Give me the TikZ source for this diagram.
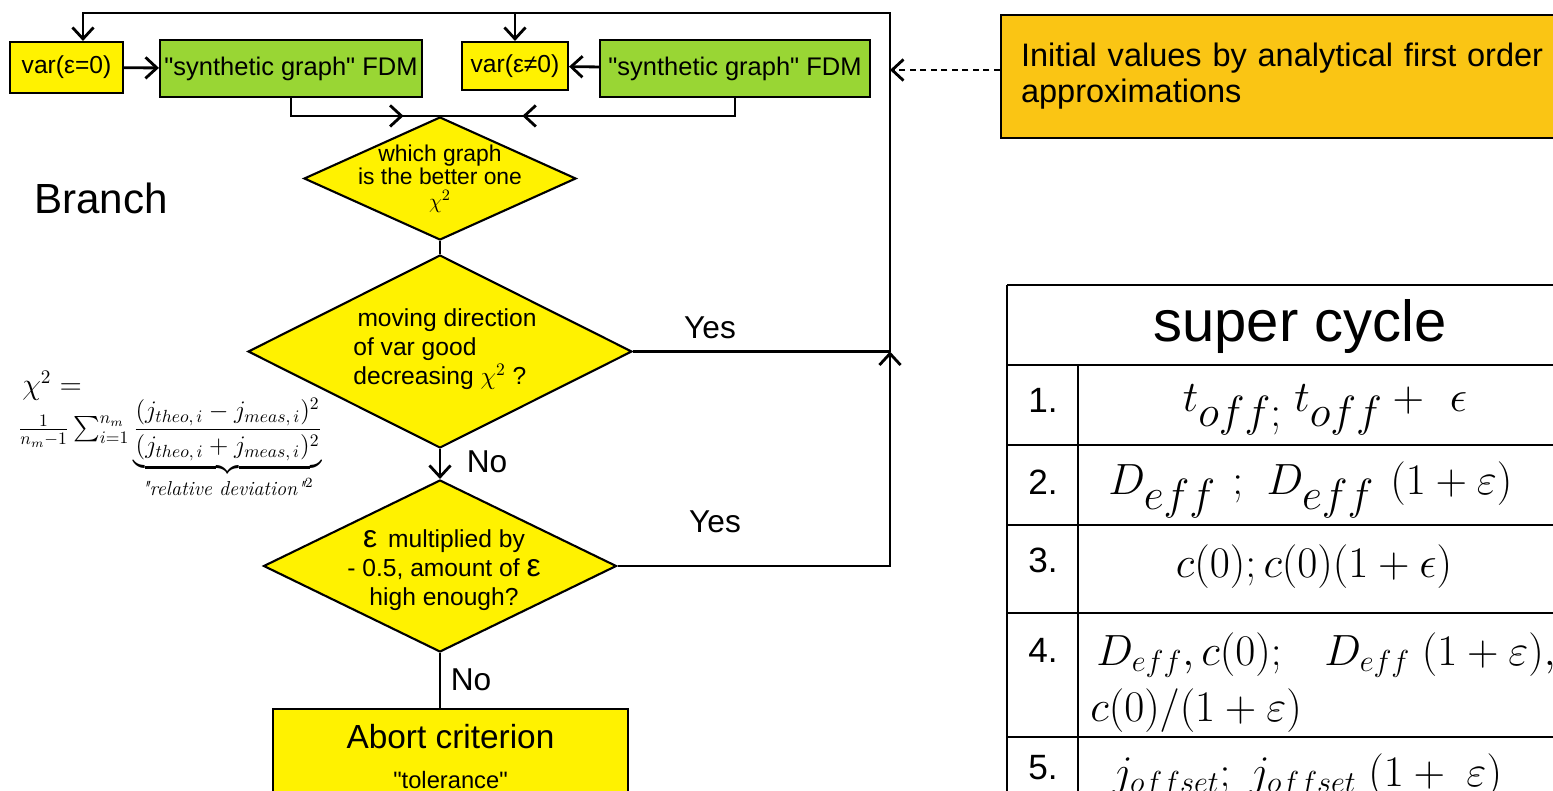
\documentclass[tikz,border=0pt]{standalone}
\usepackage{amsmath}
\usepackage{fontspec}
\setmainfont{Liberation Sans}
\newfontfamily\lmroman{Latin Modern Roman}
\usetikzlibrary{
    arrows.meta,
    positioning,
    shapes.geometric,
    decorations.markings,
    calc
}
\definecolor{box yellow}{RGB}{255,242,0}
\definecolor{box green}{RGB}{153,214,52}
\definecolor{box orange}{RGB}{250,197,20}
\tikzset{
    % Lines and arrows
    arrow tip/.tip={Straight Barb[length=6.5pt,width=12pt]},
    flow/.style={line width=1.6pt},
    arr/.style={flow,->,>={arrow tip}},
    midarrow/.style={postaction=decorate,decoration={markings, mark=at position #1 with {\arrow[xshift=3pt]{arrow tip}}} },
    midarrow/.default=.5,
    %
    % Boxes
    var box/.style={draw,line width=1.2pt,fill=box yellow,inner sep=0pt,font=\fontsize{14}{17}\selectfont},
    fdm box/.style={draw,line width=1.2pt,fill=box green,inner sep=0pt,font=\fontsize{14.5}{17}\selectfont},
    decision/.style={diamond,draw,line width=1.2pt,fill=box yellow,inner sep=0pt},
    decision text/.style={inner sep=0pt,font=\fontsize{14}{16.5}\selectfont},
    answer/.style={inner sep=0pt,font=\fontsize{18}{20}\selectfont},
    %
    % Table
    table line/.style={line width=1.2pt},
    row number/.style={inner sep=0pt,font=\fontsize{20}{22}\selectfont},
    cell/.style={inner sep=0pt,font=\fontsize{33}{36}\selectfont},
    small cell/.style={cell,anchor=west,font=\fontsize{24}{27}\selectfont}
}
\newcommand{\dq}{\textquotedbl}

\begin{document}
\begin{tikzpicture}[x=0.02cm,y=-0.02cm]
    \useasboundingbox (0,0) rectangle (1553,791);

    % upper row
    \node[var box,minimum width=113*0.02cm,minimum height=51*0.02cm] (var0) at (66.5,67.5) {var(ε=0)};
    \node[fdm box,minimum width=262*0.02cm,minimum height=57*0.02cm] (fdm0) at (291,68.5) {\dq synthetic graph\dq{} FDM};
    \node[var box,minimum width=106*0.02cm,minimum height=48*0.02cm] (var1) at (515,66) {var(ε≠0)};
    \node[fdm box,minimum width=270*0.02cm,minimum height=57*0.02cm] (fdm1) at (735,68.5) {\dq synthetic graph\dq{} FDM};
    \draw[arr] (var0) -- (fdm0);
    \draw[arr] (fdm1) -- (var1);

    % decisions
    \node[decision,minimum width=272*0.02cm,minimum height=123*0.02cm] (d1) at (440,178.5) {};
    \node[decision text,align=center,font=\fontsize{13}{13.5}\selectfont] (d1 text) at (d1) {which graph\\is the better one\\$\chi^2$};
    \node[decision,minimum width=384*0.02cm,minimum height=193*0.02cm] (d2) at (440,351.5) {};
    \node[decision text,align=left] (d2 text) at (445,349) {\,moving direction\\of var good\\decreasing $\chi^2$ ?};
    \node[decision,minimum width=353*0.02cm,minimum height=172*0.02cm] (d3) at (440,566) {};
    \node[decision text,align=center] (d3 text) at (444,570) {{\fontsize{18}{16}\selectfont ε}\, multiplied by\\- 0.5, amount of {\fontsize{18}{16}\selectfont ε}\\high enough?};

    \draw[flow,midarrow=.75] (fdm0.south) |- (d1.north);
    \draw[flow,midarrow=.72] (fdm1.south) |- (d1.north);
    \draw[flow] (d1.south) -- (d2.north);
    \draw[arr] (d2.south) -- (d3.north);

    % abort
    \node[var box,anchor=north,minimum width=355*0.02cm,minimum height=95*0.02cm,align=center,font=\fontsize{19}{21}\selectfont] (abort) at (450.5,708) {Abort criterion\\[2pt]{\fontsize{13.5}{15}\selectfont \dq tolerance\dq}};
    \draw[flow] (d3.south) -- (d3.south |- abort.north);

    % feedback loop
    \coordinate (join) at (890,351.5);
    \coordinate (top right) at (890,13);
    \coordinate (top mid) at (var1.north |- top right);
    \draw[flow] (d2.east) -- (join);
    \draw[arr] (d3.east) -| (join);
    \draw[arr] (join) -- (top right) -| ([xshift=16.5*0.02cm]var0.north);
    \draw[arr] (top mid) -- (var1.north);

    \node[answer] (yes1) at (710,328) {Yes};
    \node[answer] (yes2) at (715,522) {Yes};
    \node[answer] (no1) at (487,462) {No};
    \node[answer] (no2) at (471,680) {No};

    \node[inner sep=0pt,font=\fontsize{24}{28}\selectfont] (branch) at (101,198) {Branch};

    % chi^2 definition
    \node[inner sep=0pt,font=\fontsize{16}{18}\selectfont] (chi head) at (52,386) {$\chi^2=$};
    \node[inner sep=0pt,anchor=north west,font=\fontsize{14}{16}\selectfont] (chi def) at (18,398)
        {$\frac{1}{n_m-1}\sum_{i=1}^{n_m}\underbrace{\frac{(j_{theo,\,i}-j_{meas,\,i})^2}{(j_{theo,\,i}+j_{meas,\,i})^2}}_{\hbox{\lmroman\itshape\fontsize{11.5}{12}\selectfont \dq relative deviation\dq$^2$}}$};

    % initial values
    \node[draw,line width=1.2pt,fill=box orange,anchor=north west,minimum width=600*0.02cm,minimum height=123*0.02cm,
        text width=560*0.02cm,align=left,inner xsep=20*0.02cm,font=\fontsize{18.5}{20.5}\selectfont] (init) at (1000,14)
        {Initial values by analytical first order\\approximations};
    \draw[arr,dash pattern=on 3.5pt off 2.5pt] (init.west |- 0,70) -- (join |- 0,70);

    % super cycle table
    \foreach \y in {285,365,445,525,613,737}
        \draw[table line] (1007,\y) -- (1560,\y);
    \draw[table line] (1007,285) -- (1007,800);
    \draw[table line] (1078,365) -- (1078,800);
    \node[inner sep=0pt,font=\fontsize{33}{36}\selectfont] (head) at (1300,327) {super cycle};
    \foreach \n/\y in {1/400,2/482,3/560,4/650,5/768}
        \node[row number] (num\n) at (1043,\y) {\n.};
    \node[cell] (c1) at (1325,410) {$t_{off;}\;t_{off}+\ \epsilon$};
    \node[cell,anchor=west] (c2) at (1108,490) {$D_{eff}\ ;\ D_{eff}\ (1+\varepsilon)$};
    \node[cell] (c3) at (1314,567) {$c(0);c(0)(1+\epsilon)$};
    \node[small cell] (c4a) at (1096,655) {$D_{eff},c(0);\ \ \ D_{eff}\ (1+\varepsilon),$};
    \node[small cell] (c4b) at (1090,711) {$c(0)/(1+\varepsilon)$};
    \node[small cell] (c5) at (1112,776) {$j_{offset};\ j_{offset}\ (1+\ \varepsilon)$};
\end{tikzpicture}
\end{document}
